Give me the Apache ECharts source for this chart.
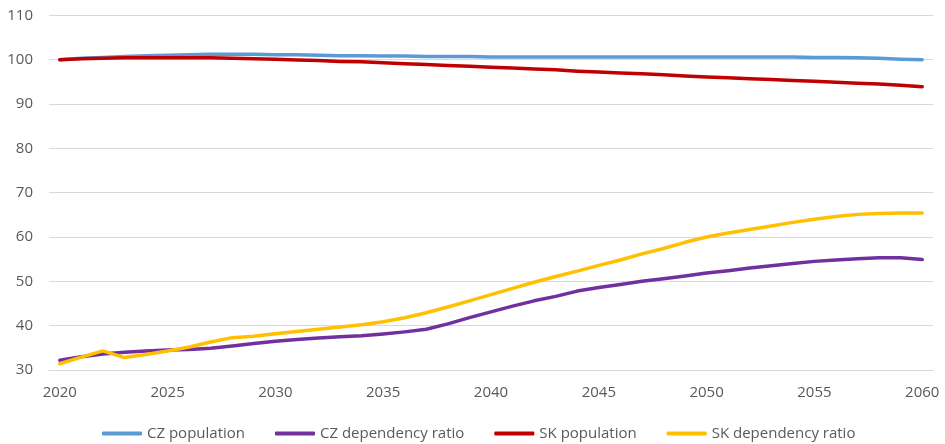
<!DOCTYPE html>
<html>
<head>
<meta charset="utf-8">
<script src="https://cdn.jsdelivr.net/npm/echarts@6/dist/echarts.min.js"></script>
<style>
html,body{margin:0;padding:0;background:#fff;}
#chart{width:945px;height:444px;}
</style>
</head>
<body>
<div id="chart"></div>
<script>
const years = [];
for (let y = 2020; y <= 2060; y++) years.push(String(y));

const czPopulation = [100.0,100.3,100.5,100.7,100.9,101.0,101.1,101.2,101.2,101.2,101.1,101.1,101.0,100.9,100.9,100.8,100.8,100.7,100.7,100.7,100.6,100.6,100.6,100.6,100.6,100.6,100.6,100.6,100.6,100.6,100.6,100.6,100.6,100.6,100.6,100.5,100.5,100.4,100.3,100.1,100.0];
const czDependency = [32.2,33.0,33.6,34.0,34.3,34.5,34.6,34.9,35.4,36.0,36.5,36.9,37.2,37.5,37.7,38.1,38.6,39.2,40.4,41.8,43.1,44.4,45.6,46.6,47.8,48.6,49.3,50.0,50.6,51.2,51.9,52.4,53.0,53.5,54.0,54.5,54.8,55.1,55.3,55.3,54.9];
const skPopulation = [100.0,100.2,100.3,100.4,100.4,100.4,100.4,100.4,100.3,100.2,100.1,99.9,99.8,99.6,99.5,99.3,99.1,98.9,98.7,98.5,98.3,98.1,97.9,97.7,97.4,97.2,97.0,96.8,96.6,96.3,96.1,95.9,95.7,95.5,95.3,95.1,94.9,94.7,94.5,94.2,93.9];
const skDependency = [31.4,32.9,34.3,32.8,33.5,34.3,35.2,36.3,37.3,37.6,38.2,38.7,39.2,39.7,40.2,40.9,41.8,42.9,44.2,45.6,47.0,48.4,49.8,51.1,52.3,53.6,54.8,56.2,57.4,58.8,60.0,60.9,61.7,62.5,63.3,64.0,64.6,65.1,65.3,65.4,65.4];

const seriesNames = ['CZ population','CZ dependency ratio','SK population','SK dependency ratio'];
const seriesData = [czPopulation, czDependency, skPopulation, skDependency];
const seriesColors = ['#5B9BD5','#7030A0','#C00000','#FFC000'];

const font = '"Open Sans", sans-serif';
const chart = echarts.init(document.getElementById('chart'), null, {renderer:'canvas'});
chart.setOption({
  animation: false,
  backgroundColor: '#ffffff',
  grid: {left: 49, right: 12, top: 15.3, bottom: 74, containLabel: false},
  legend: {
    left: 102, top: 426, padding: 0,
    itemWidth: 40, itemHeight: 4, itemGap: 30,
    icon: 'roundRect',
    textStyle: {fontFamily: font, fontSize: 15, color: '#595959'},
    data: seriesNames
  },
  xAxis: {
    type: 'category',
    data: years,
    boundaryGap: true,
    axisLine: {show: true, lineStyle: {color: '#d9d9d9', width: 1}},
    axisTick: {show: false},
    axisLabel: {interval: 4, margin: 15, fontFamily: font, fontSize: 15, color: '#595959'},
    splitLine: {show: false}
  },
  yAxis: {
    type: 'value',
    min: 30, max: 110, interval: 10,
    axisLine: {show: false},
    axisTick: {show: false},
    axisLabel: {margin: 16, fontFamily: font, fontSize: 15, color: '#595959'},
    splitLine: {show: true, lineStyle: {color: '#d9d9d9', width: 1}}
  },
  series: seriesNames.map((n, i) => ({
    name: n,
    type: 'line',
    data: seriesData[i],
    symbol: 'none',
    smooth: false,
    color: seriesColors[i],
    lineStyle: {color: seriesColors[i], width: 3.5, cap: 'round', join: 'round'}
  }))
});
</script>
</body>
</html>
